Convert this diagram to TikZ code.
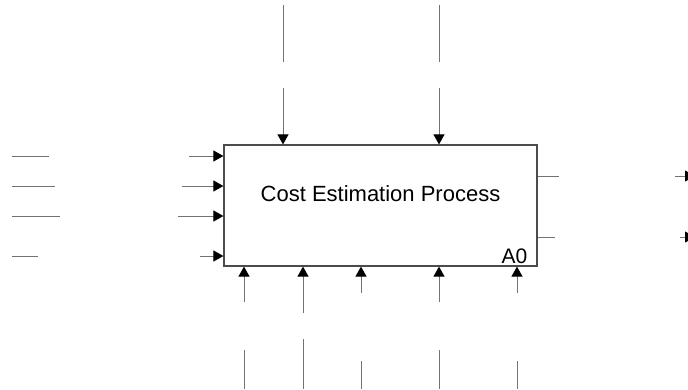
\documentclass[tikz,border=0pt]{standalone}
\usepackage{fontspec}
\setmainfont{Liberation Sans}
\usetikzlibrary{arrows.meta, calc}

\begin{document}
\begin{tikzpicture}[
    x=1pt, y=-1pt,
    line/.style={draw=black!55, line width=1pt},
    arrow/.style={line, -{Triangle[length=10pt, width=11pt, color=black]}},
    funcbox/.style={rectangle, draw=black!70, line width=1.2pt, minimum width=313pt, minimum height=121pt, inner sep=0pt},
    boxtext/.style={font=\fontsize{22}{26}\selectfont, inner sep=0pt}
]
\clip (0,0) rectangle (688,389);

% Function box
\node[funcbox] (a0) at (380.5,205.5) {};
\node[boxtext, anchor=base] (title) at ($(a0.center)+(0,-4.5)$) {Cost Estimation Process};
\node[boxtext, font=\fontsize{21}{25}\selectfont, anchor=base east] (a0num) at ($(a0.south east)+(-10,-3)$) {A0};

% Inputs
\coordinate (in1a) at (12,156);  \coordinate (in1b) at (49,156);  \coordinate (in1c) at (189,156);
\coordinate (in2a) at (12,186);  \coordinate (in2b) at (55,186);  \coordinate (in2c) at (182,186);
\coordinate (in3a) at (12,216);  \coordinate (in3b) at (60,216);  \coordinate (in3c) at (178,216);
\coordinate (in4a) at (12,256);  \coordinate (in4b) at (38,256);  \coordinate (in4c) at (200,256);
\draw[line] (in1a) -- (in1b);
\draw[line] (in2a) -- (in2b);
\draw[line] (in3a) -- (in3b);
\draw[line] (in4a) -- (in4b);
\draw[arrow] (in1c) -- (in1c -| a0.west);
\draw[arrow] (in2c) -- (in2c -| a0.west);
\draw[arrow] (in3c) -- (in3c -| a0.west);
\draw[arrow] (in4c) -- (in4c -| a0.west);

% Controls
\coordinate (ct1a) at (283,5);  \coordinate (ct1b) at (283,62);  \coordinate (ct1c) at (283,88);
\coordinate (ct2a) at (439,5);  \coordinate (ct2b) at (439,62);  \coordinate (ct2c) at (439,88);
\draw[line] (ct1a) -- (ct1b);
\draw[line] (ct2a) -- (ct2b);
\draw[arrow] (ct1c) -- (ct1c |- a0.north);
\draw[arrow] (ct2c) -- (ct2c |- a0.north);

% Outputs
\coordinate (out1a) at (559,176);  \coordinate (out1b) at (675,176);  \coordinate (out1c) at (695,176);
\coordinate (out2a) at (555,237);  \coordinate (out2b) at (680,237);  \coordinate (out2c) at (695,237);
\draw[line] (out1a -| a0.east) -- (out1a);
\draw[line] (out2a -| a0.east) -- (out2a);
\draw[arrow] (out1b) -- (out1c);
\draw[arrow] (out2b) -- (out2c);

% Mechanisms
\coordinate (mc1a) at (244,302);  \coordinate (mc1b) at (244,350);  \coordinate (mc1c) at (244,389);
\coordinate (mc2a) at (303,313);  \coordinate (mc2b) at (303,339);  \coordinate (mc2c) at (303,389);
\coordinate (mc3a) at (361,293);  \coordinate (mc3b) at (361,361);  \coordinate (mc3c) at (361,389);
\coordinate (mc4a) at (439,302);  \coordinate (mc4b) at (439,350);  \coordinate (mc4c) at (439,389);
\coordinate (mc5a) at (517,293);  \coordinate (mc5b) at (517,361);  \coordinate (mc5c) at (517,389);
\draw[arrow] (mc1a) -- (mc1a |- a0.south);
\draw[arrow] (mc2a) -- (mc2a |- a0.south);
\draw[arrow] (mc3a) -- (mc3a |- a0.south);
\draw[arrow] (mc4a) -- (mc4a |- a0.south);
\draw[arrow] (mc5a) -- (mc5a |- a0.south);
\draw[line] (mc1b) -- (mc1c);
\draw[line] (mc2b) -- (mc2c);
\draw[line] (mc3b) -- (mc3c);
\draw[line] (mc4b) -- (mc4c);
\draw[line] (mc5b) -- (mc5c);

\end{tikzpicture}
\end{document}
